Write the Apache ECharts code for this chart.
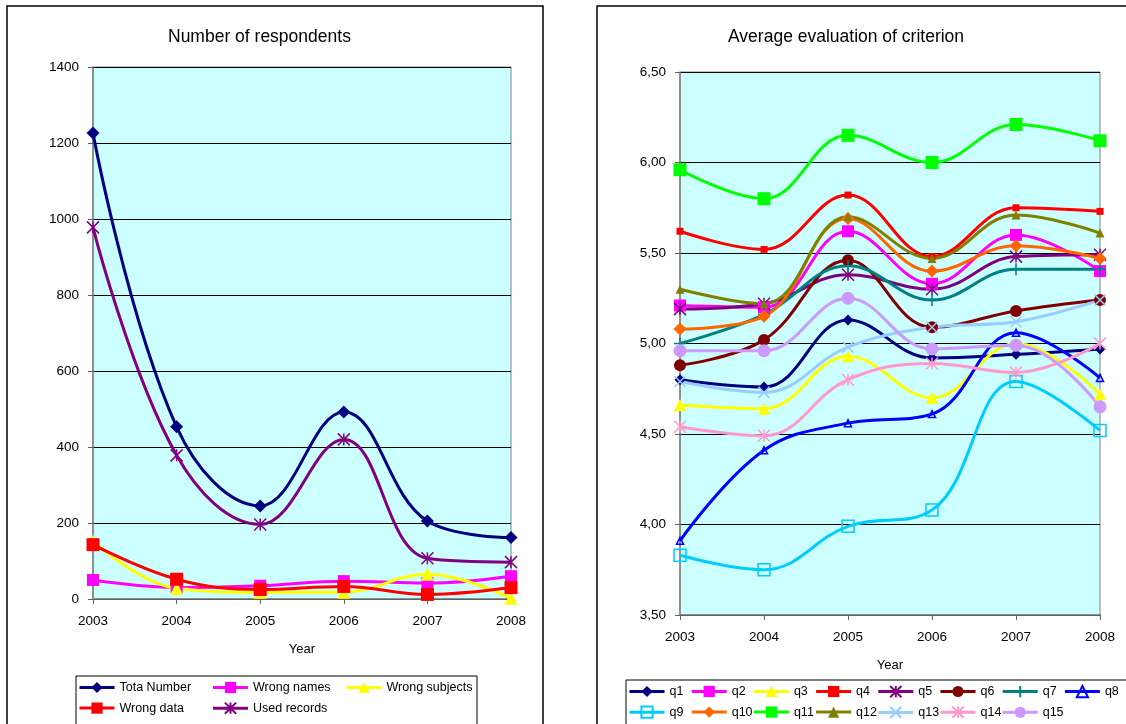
<!DOCTYPE html>
<html><head><meta charset="utf-8">
<script src="https://cdn.jsdelivr.net/npm/echarts@6/dist/echarts.min.js"></script>
<style>html,body{margin:0;padding:0;background:#fff;}#c{width:1126px;height:724px;}</style>
</head><body><div id="c"></div>
<script>
// ---- data ----
const years = ['2003','2004','2005','2006','2007','2008'];
// Left chart: Number of respondents
const totaNumber    = [1226, 453, 245, 492, 205, 162];
const wrongNames    = [50, 30, 35, 47, 42, 60];
const wrongSubjects = [152, 28, 18, 18, 65, 2];
const wrongData     = [143, 52, 25, 33, 12, 30];
const usedRecords   = [978, 378, 196, 420, 107, 97];
const leftTicks = [0, 200, 400, 600, 800, 1000, 1200, 1400];
// Right chart: Average evaluation of criterion
const q1  = [4.80, 4.76, 5.13, 4.92, 4.94, 4.97];
const q2  = [5.21, 5.20, 5.62, 5.33, 5.60, 5.40];
const q3  = [4.66, 4.64, 4.93, 4.70, 5.00, 4.72];
const q4  = [5.62, 5.52, 5.82, 5.48, 5.75, 5.73];
const q5  = [5.19, 5.22, 5.38, 5.30, 5.48, 5.49];
const q6  = [4.88, 5.02, 5.46, 5.09, 5.18, 5.24];
const q7  = [5.00, 5.16, 5.43, 5.24, 5.41, 5.41];
const q8  = [3.91, 4.41, 4.56, 4.61, 5.06, 4.81];
const q9  = [3.83, 3.75, 3.99, 4.08, 4.79, 4.52];
const q10 = [5.08, 5.15, 5.69, 5.40, 5.54, 5.47];
const q11 = [5.96, 5.80, 6.15, 6.00, 6.21, 6.12];
const q12 = [5.30, 5.22, 5.70, 5.47, 5.71, 5.61];
const q13 = [4.79, 4.73, 4.98, 5.09, 5.12, 5.24];
const q14 = [4.54, 4.49, 4.80, 4.89, 4.84, 5.00];
const q15 = [4.96, 4.96, 5.25, 4.97, 4.99, 4.65];
const rightTicks = [3.5, 4.0, 4.5, 5.0, 5.5, 6.0, 6.5];
// legend columns (two rows each)
const leftLegendCols = [['Tota Number', 'Wrong data'], ['Wrong names', 'Used records'], ['Wrong subjects']];
const rightLegendCols = [['q1','q9'], ['q2','q10'], ['q3','q11'], ['q4','q12'], ['q5','q13'], ['q6','q14'], ['q7','q15'], ['q8']];

const FONT = 'Liberation Sans, Arial, sans-serif';
const SYM = {
  star: 'path://M5,0L5,10M0,0L10,10M10,0L0,10',
  x: 'path://M0,0L10,10M10,0L0,10',
  plus: 'path://M5,0L5,10M0,5L10,5',
  openTri: 'path://M5,0L10,10L0,10Z',
  openSq: 'path://M0,0L10,0L10,10L0,10Z'
};

function mk(name, data, color, symbol, size, idx, opts) {
  opts = opts || {};
  const s = {
    name: name, type: 'line', data: data, xAxisIndex: idx, yAxisIndex: idx,
    smooth: 0.4, symbol: symbol, symbolSize: size, showAllSymbol: true,
    lineStyle: {color: color, width: 3},
    itemStyle: {color: color},
    emphasis: {disabled: true}, animation: false, z: 3
  };
  if (opts.stroke) s.itemStyle = {color: color, borderColor: color, borderWidth: 1.5};
  if (opts.hollow) s.itemStyle = {color: 'rgba(0,0,0,0)', borderColor: color, borderWidth: 1.5};
  return s;
}

const series = [
  mk('Tota Number', totaNumber, '#000080', 'diamond', 13, 0),
  mk('Wrong names', wrongNames, '#FF00FF', 'rect', 12, 0),
  mk('Wrong subjects', wrongSubjects, '#FFFF00', 'triangle', 13, 0),
  mk('Wrong data', wrongData, '#FF0000', 'rect', 13, 0),
  mk('Used records', usedRecords, '#800080', SYM.star, 12, 0, {stroke: true}),
  mk('q1', q1, '#000080', 'diamond', 11, 1),
  mk('q2', q2, '#FF00FF', 'rect', 12, 1),
  mk('q3', q3, '#FFFF00', 'triangle', 12, 1),
  mk('q4', q4, '#FF0000', 'rect', 7, 1),
  mk('q5', q5, '#800080', SYM.star, 12, 1, {stroke: true}),
  mk('q6', q6, '#800000', 'circle', 12, 1),
  mk('q7', q7, '#008080', SYM.plus, 12, 1, {stroke: true}),
  mk('q8', q8, '#0000FF', SYM.openTri, 7, 1, {hollow: true}),
  mk('q9', q9, '#00CCFF', SYM.openSq, 12, 1, {hollow: true}),
  mk('q10', q10, '#FF6600', 'diamond', 13, 1),
  mk('q11', q11, '#00FF00', 'rect', 13, 1),
  mk('q12', q12, '#808000', 'triangle', 9, 1),
  mk('q13', q13, '#99CCFF', SYM.x, 11, 1, {stroke: true}),
  mk('q14', q14, '#FF99CC', SYM.star, 12, 1, {stroke: true}),
  mk('q15', q15, '#CC99FF', 'circle', 13, 1)
];

function xAxis(idx, gap) {
  return {
    type: 'category', gridIndex: idx, data: years, boundaryGap: false,
    name: 'Year', nameLocation: 'middle', nameGap: gap,
    nameTextStyle: {color: '#000', fontSize: 13, fontFamily: FONT},
    axisLine: {lineStyle: {color: '#808080', width: 1.5}},
    axisTick: {show: true, inside: false, length: 5, alignWithLabel: true, lineStyle: {color: '#606060'}},
    axisLabel: {color: '#000', fontSize: 13.5, fontFamily: FONT, margin: 15, interval: 0},
    splitLine: {show: false}
  };
}
function yAxis(idx, ticks, fmt) {
  return {
    type: 'value', gridIndex: idx, min: ticks[0], max: ticks[ticks.length - 1],
    interval: ticks[1] - ticks[0],
    axisLine: {show: true, lineStyle: {color: '#808080', width: 1.5}},
    axisTick: {show: true, inside: false, length: 5, lineStyle: {color: '#606060'}},
    axisLabel: {color: '#000', fontSize: 13.5, fontFamily: FONT, margin: 14, formatter: fmt},
    splitLine: {show: true, lineStyle: {color: '#000', width: 1}}
  };
}

function legendCol(names, left, top) {
  return {
    data: names, left: left, top: top, orient: 'vertical',
    itemWidth: 35, itemHeight: 14, itemGap: 7.6, padding: 0,
    selectedMode: false,
    lineStyle: {width: 3},
    textStyle: {color: '#000', fontSize: 12.5, fontFamily: FONT}
  };
}

const legends = [];
leftLegendCols.forEach((col, i) => legends.push(legendCol(col, 78 + i * 133.5, 681)));
rightLegendCols.forEach((col, i) => legends.push(legendCol(col, 628 + i * 62.2, 685)));

const option = {
  backgroundColor: '#fff',
  animation: false,
  title: [
    {text: 'Number of respondents', left: 168, top: 28, padding: 0,
     textStyle: {fontSize: 17.5, fontWeight: 'normal', color: '#000', fontFamily: FONT}},
    {text: 'Average evaluation of criterion', left: 728, top: 28, padding: 0,
     textStyle: {fontSize: 17.5, fontWeight: 'normal', color: '#000', fontFamily: FONT}}
  ],
  grid: [
    {left: 93, top: 67, width: 418, height: 532, show: true, backgroundColor: '#CCFFFF',
     borderColor: '#808080', borderWidth: 1, containLabel: false},
    {left: 680, top: 72, width: 420, height: 543, show: true, backgroundColor: '#CCFFFF',
     borderColor: '#808080', borderWidth: 1, containLabel: false}
  ],
  xAxis: [xAxis(0, 44), xAxis(1, 44)],
  yAxis: [
    yAxis(0, leftTicks, v => String(v)),
    yAxis(1, rightTicks, v => v.toFixed(2).replace('.', ','))
  ],
  legend: legends,
  graphic: [
    {type: 'rect', shape: {x: 7, y: 6, width: 536, height: 760}, style: {fill: 'none', stroke: '#000', lineWidth: 1.5}, z: -1},
    {type: 'rect', shape: {x: 597, y: 6, width: 600, height: 760}, style: {fill: 'none', stroke: '#000', lineWidth: 1.5}, z: -1},
    {type: 'rect', shape: {x: 76, y: 676, width: 401, height: 80}, style: {fill: 'none', stroke: '#000', lineWidth: 1}, z: -1},
    {type: 'rect', shape: {x: 626, y: 680, width: 560, height: 80}, style: {fill: 'none', stroke: '#000', lineWidth: 1}, z: -1}
  ],
  series: series
};

const chart = echarts.init(document.getElementById('c'), null, {renderer: 'canvas'});
chart.setOption(option);
</script>
</body></html>
